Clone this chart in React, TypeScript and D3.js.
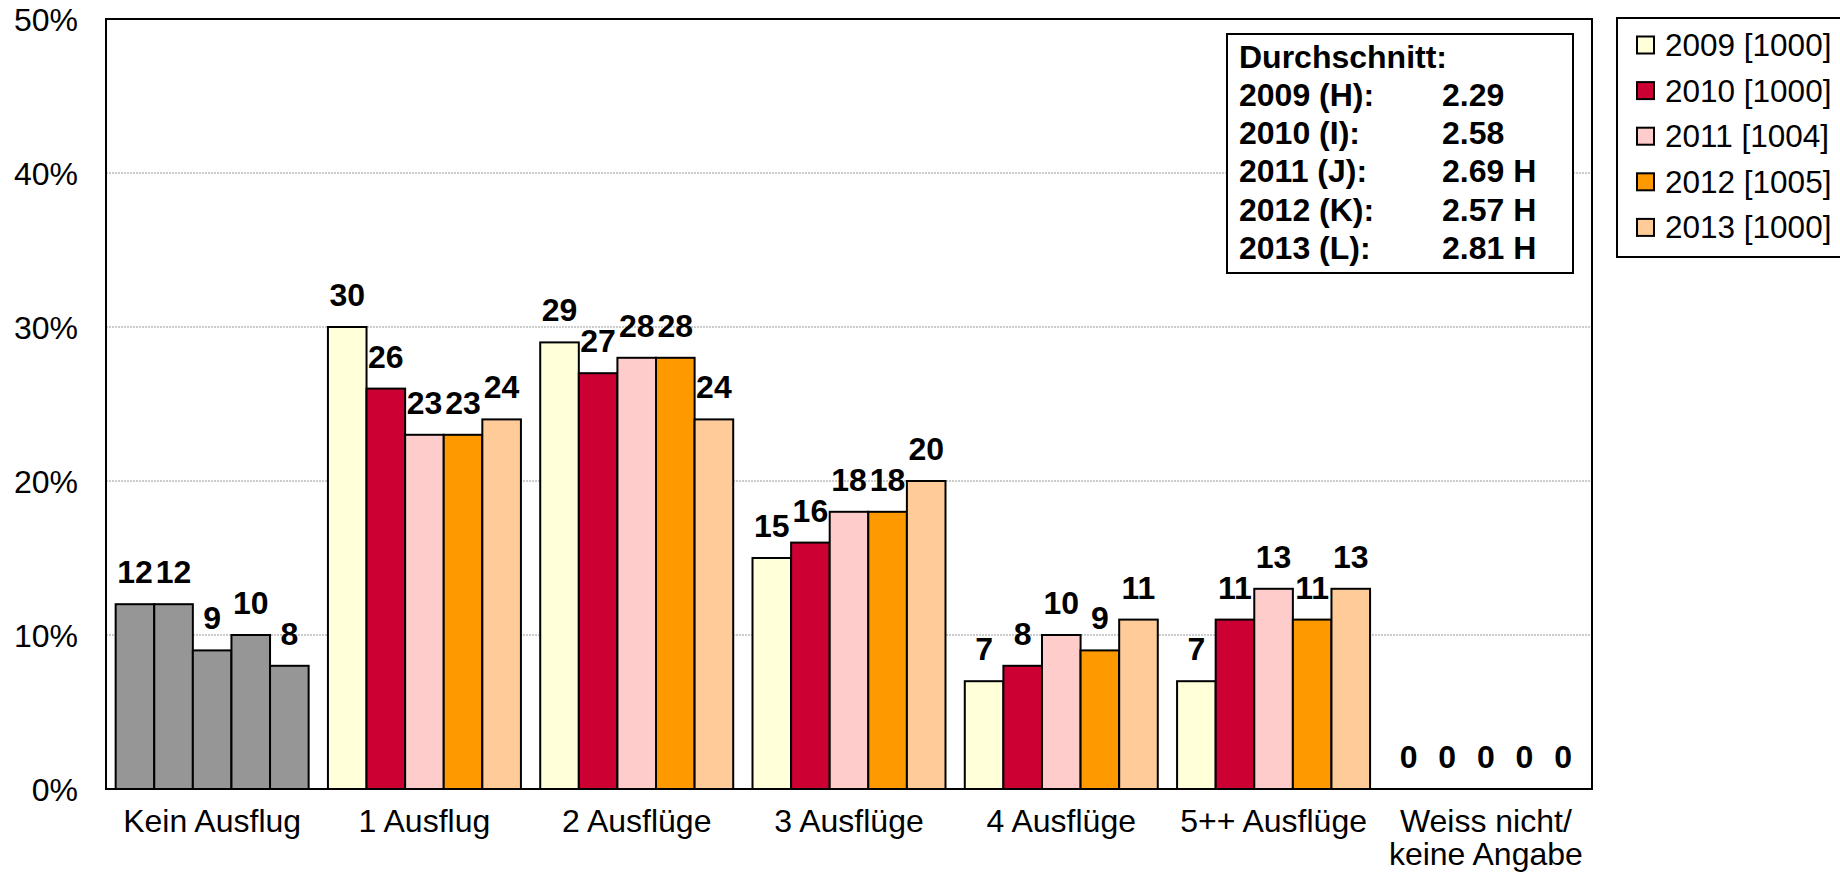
import * as d3 from "d3";

const categories = [
  "Kein Ausflug",
  "1 Ausflug",
  "2 Ausflüge",
  "3 Ausflüge",
  "4 Ausflüge",
  "5++ Ausflüge",
  "Weiss nicht/\nkeine Angabe",
];
const seriesNames = ["2009 [1000]", "2010 [1000]", "2011 [1004]", "2012 [1005]", "2013 [1000]"];
const seriesKeys = ["2009", "2010", "2011", "2012", "2013"];
const seriesColors = ["#FFFFD9", "#CC0033", "#FFCCCC", "#FF9900", "#FFCC99"];

// values per series, one per category (percent)
const v2009 = [12, 30, 29, 15, 7, 7, 0];
const v2010 = [12, 26, 27, 16, 8, 11, 0];
const v2011 = [9, 23, 28, 18, 10, 13, 0];
const v2012 = [10, 23, 28, 18, 9, 11, 0];
const v2013 = [8, 24, 24, 20, 11, 13, 0];
const seriesValues = [v2009, v2010, v2011, v2012, v2013];

const yTicks = [0, 10, 20, 30, 40, 50];

const avgRows = [
  ["2009 (H):", "2.29"],
  ["2010 (I):", "2.58"],
  ["2011 (J):", "2.69 H"],
  ["2012 (K):", "2.57 H"],
  ["2013 (L):", "2.81 H"],
];

const W = 1840;
const H = 872;
const left = 106;
const right = 1592;
const top = 19;
const bottom = 789;
const FONT = "'Liberation Sans', Arial, sans-serif";

export default function App() {
  const x0 = d3.scaleBand<string>().domain(categories).range([left, right]).padding(0);
  const x1 = d3
    .scaleBand<string>()
    .domain(seriesKeys)
    .range([0, x0.bandwidth()])
    .paddingInner(0)
    .paddingOuter(0.25);
  const y = d3.scaleLinear().domain([0, 50]).range([bottom, top]);

  return (
    <svg
      width={W}
      height={H}
      style={{ position: "absolute", left: 0, top: 0, background: "#fff" }}
      fontFamily={FONT}
    >
      {/* gridlines */}
      {yTicks
        .filter((t) => t > 0)
        .map((t) => (
          <line
            key={t}
            x1={left}
            x2={right}
            y1={y(t)}
            y2={y(t)}
            stroke="#999"
            strokeWidth={1}
            strokeDasharray="2,1"
          />
        ))}

      {/* y tick labels */}
      {yTicks.map((t) => (
        <text key={t} x={78} y={y(t) + 12} textAnchor="end" fontSize={32} fill="#000">
          {t}%
        </text>
      ))}

      {/* bars */}
      {categories.map((c, ci) =>
        seriesKeys.map((k, si) => {
          const v = seriesValues[si][ci];
          if (v <= 0) return null;
          const fill = ci === 0 ? "#969696" : seriesColors[si];
          return (
            <rect
              key={c + k}
              x={(x0(c) as number) + (x1(k) as number)}
              y={y(v)}
              width={x1.bandwidth()}
              height={y(0) - y(v)}
              fill={fill}
              stroke="#000"
              strokeWidth={2}
            />
          );
        })
      )}

      {/* data labels */}
      {categories.map((c, ci) =>
        seriesKeys.map((k, si) => {
          const v = seriesValues[si][ci];
          return (
            <text
              key={"l" + c + k}
              x={(x0(c) as number) + (x1(k) as number) + x1.bandwidth() / 2}
              y={y(v) - 21}
              textAnchor="middle"
              fontSize={32}
              fontWeight="bold"
              fill="#000"
            >
              {v}
            </text>
          );
        })
      )}

      {/* plot frame */}
      <rect
        x={left}
        y={top}
        width={right - left}
        height={bottom - top}
        fill="none"
        stroke="#000"
        strokeWidth={2}
      />

      {/* category labels */}
      {categories.map((c) => {
        const lines = c.split("\n");
        const cx = (x0(c) as number) + x0.bandwidth() / 2;
        return (
          <text key={"c" + c} x={cx} y={832} textAnchor="middle" fontSize={32} fill="#000">
            {lines.map((ln, i) => (
              <tspan key={i} x={cx} dy={i === 0 ? 0 : 33}>
                {ln}
              </tspan>
            ))}
          </text>
        );
      })}

      {/* average box */}
      <rect x={1227} y={34} width={346} height={239} fill="#fff" stroke="#000" strokeWidth={2} />
      <text x={1239} y={68} fontSize={32} fontWeight="bold" fill="#000">
        Durchschnitt:
      </text>
      {avgRows.map((r, i) => (
        <g key={r[0]}>
          <text x={1239} y={106 + i * 38.2} fontSize={32} fontWeight="bold" fill="#000">
            {r[0]}
          </text>
          <text x={1442} y={106 + i * 38.2} fontSize={32} fontWeight="bold" fill="#000">
            {r[1]}
          </text>
        </g>
      ))}

      {/* legend */}
      <rect x={1617} y={18} width={240} height={239} fill="#fff" stroke="#000" strokeWidth={2} />
      {seriesNames.map((n, i) => {
        const cy = 45 + i * 45.6;
        return (
          <g key={n}>
            <rect
              x={1637}
              y={cy - 8.5}
              width={17}
              height={17}
              fill={seriesColors[i]}
              stroke="#000"
              strokeWidth={2}
            />
            <text x={1665} y={cy + 11} fontSize={31.5} fill="#000">
              {n}
            </text>
          </g>
        );
      })}
    </svg>
  );
}
